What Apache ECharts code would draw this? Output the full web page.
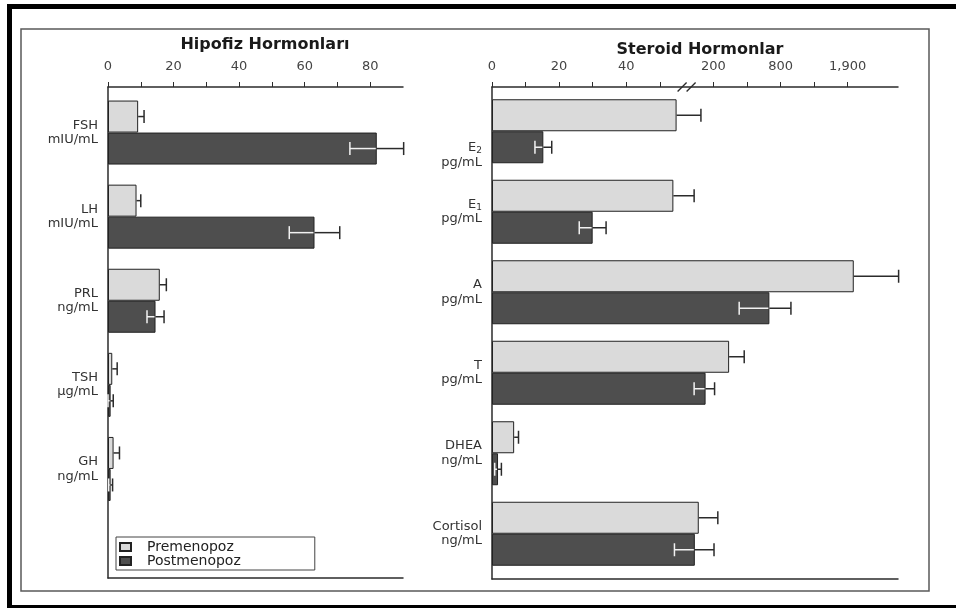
<!DOCTYPE html>
<html>
<head>
<meta charset="utf-8">
<script src="https://cdn.jsdelivr.net/npm/echarts@6/dist/echarts.min.js"></script>
<style>
  html, body { margin: 0; padding: 0; background: #fff; }
  #chart { width: 956px; height: 608px; }
</style>
</head>
<body>
<div id="chart"></div>
<script>
// Pituitary hormones (left panel)
const pituitaryCats = ['FSH', 'LH', 'PRL', 'TSH', 'GH'];
const pituitaryUnits = ['mIU/mL', 'mIU/mL', 'ng/mL', 'µg/mL', 'ng/mL'];
const pituitaryPre = [9.2, 8.7, 15.8, 1.3, 1.7];
const pituitaryPreErr = [1.8, 1.3, 2.0, 1.5, 1.8];
const pituitaryPost = [82, 63, 14.5, 0.8, 0.8];
const pituitaryPostErr = [8.2, 7.7, 2.6, 0.8, 0.6];
const pituitaryTickLabels = [0, 20, 40, 60, 80];
const pituitaryMinorTicks = [0, 10, 20, 30, 40, 50, 60, 70, 80];

// Steroid hormones (right panel, broken scale)
const steroidCats = ['E2', 'E1', 'A', 'T', 'DHEA', 'Cortisol'];
const steroidUnits = ['pg/mL', 'pg/mL', 'pg/mL', 'pg/mL', 'ng/mL', 'ng/mL'];
const steroidPre = [97, 88, 2000, 340, 6.6, 159];
const steroidPreErr = [68, 58, 735, 135, 1.3, 80];
const steroidPost = [15.3, 30, 700, 178, 1.8, 148];
const steroidPostErr = [2.5, 4, 270, 32, 1.0, 57];
const steroidTickValues = [0, 20, 40, 200, 800, 1900];
const steroidTickLabels = ['0', '20', '40', '200', '800', '1,900'];
const steroidMinorTicks = [0, 10, 20, 30, 40, 50, 200, 500, 800, 1350, 1900];

const seriesNames = ['Premenopoz', 'Postmenopoz'];

// Broken scale: value -> linear axis units (piecewise linear between knots)
const scaleKnots = [[0, 0], [50, 50], [200, 66], [800, 86], [1900, 106]];
function toAxis(v) {
  for (let i = 1; i < scaleKnots.length; i++) {
    const [v0, u0] = scaleKnots[i - 1], [v1, u1] = scaleKnots[i];
    if (v <= v1 || i === scaleKnots.length - 1) {
      return u0 + (v - v0) * (u1 - u0) / (v1 - v0);
    }
  }
}
const ident = v => v;

const FONT = 'DejaVu Sans';
const INK = '#2b2b2b';
const PRE_FILL = '#dadada';
const POST_FILL = '#4e4e4e';
const BAR_W = 32;

function errorData(vals, errs, map) {
  return vals.map((v, i) => [map(Math.max(0, v - errs[i])), map(v + errs[i]), map(v), i]);
}

function errorSeries(name, xIdx, yIdx, data, side) {
  return {
    type: 'custom', name: name, xAxisIndex: xIdx, yAxisIndex: yIdx, z: 5, clip: false,
    encode: { x: [0, 1, 2], y: 3 },
    data: data,
    renderItem: function (params, api) {
      const idx = api.value(3);
      const pEnd = api.coord([api.value(2), idx]);
      const pHi = api.coord([api.value(1), idx]);
      const pLo = api.coord([api.value(0), idx]);
      const y = pEnd[1] + side * BAR_W / 2;
      const cap = 6.5;
      const dark = { stroke: INK, lineWidth: 1.5 };
      const light = { stroke: '#f2f2f2', lineWidth: 1.5 };
      const kids = [
        { type: 'line', shape: { x1: pEnd[0], y1: y, x2: pHi[0], y2: y }, style: dark },
        { type: 'line', shape: { x1: pHi[0], y1: y - cap, x2: pHi[0], y2: y + cap }, style: dark }
      ];
      if (side > 0) {
        kids.push({ type: 'line', shape: { x1: pLo[0], y1: y, x2: pEnd[0] - 1, y2: y }, style: light });
        kids.push({ type: 'line', shape: { x1: pLo[0], y1: y - cap, x2: pLo[0], y2: y + cap }, style: light });
      }
      return { type: 'group', children: kids };
    }
  };
}

function barSeries(name, xIdx, yIdx, data, fill) {
  return {
    type: 'bar', name: name, xAxisIndex: xIdx, yAxisIndex: yIdx,
    barWidth: BAR_W, barGap: '0%',
    itemStyle: { color: fill, borderColor: '#222', borderWidth: 1 },
    data: data
  };
}

const richLabel = {
  n: { fontFamily: FONT, fontSize: 13, color: '#333', lineHeight: 14.5 },
  sub: { fontFamily: FONT, fontSize: 9, color: '#333', lineHeight: 9, verticalAlign: 'bottom' }
};
const labelPadTop = { E2: 48 };

const lineOnly = (extra) => Object.assign({
  axisLine: { show: true, onZero: false, lineStyle: { color: INK, width: 1.5 } },
  axisTick: { show: false }, axisLabel: { show: false }, splitLine: { show: false }
}, extra);

const topValueAxis = (gridIndex, max, labelVals, tickVals, fmt) => ({
  type: 'value', gridIndex: gridIndex, position: 'top', min: 0, max: max,
  axisLine: { show: true, onZero: false, lineStyle: { color: INK, width: 1.5 } },
  axisTick: { show: true, length: 5, inside: false, lineStyle: { color: INK, width: 1 }, customValues: tickVals },
  axisLabel: { show: true, margin: 14, fontFamily: FONT, fontSize: 13, color: '#444',
               customValues: labelVals, formatter: fmt },
  splitLine: { show: false }
});

const steroidTickU = steroidTickValues.map(toAxis);
const steroidMax = 121;
const pitMax = 90;

const option = {
  animation: false,
  backgroundColor: '#fff',
  title: [
    { text: 'Hipofiz Hormonları', left: 260, top: 32, textAlign: 'center',
      textStyle: { fontFamily: FONT, fontSize: 16, fontWeight: 'bold', color: '#1a1a1a' } },
    { text: 'Steroid Hormonlar', left: 695, top: 37, textAlign: 'center',
      textStyle: { fontFamily: FONT, fontSize: 16, fontWeight: 'bold', color: '#1a1a1a' } }
  ],
  legend: {
    data: seriesNames, orient: 'vertical', left: 116, top: 537, icon: 'rect',
    itemWidth: 11, itemHeight: 8, itemGap: 0, selectedMode: false,
    padding: [3, 74, 2, 3], borderColor: '#444', borderWidth: 1,
    textStyle: { fontFamily: FONT, fontSize: 14, color: '#222', padding: [0, 0, 0, 11] }
  },
  grid: [
    { left: 108, top: 87, width: 295, height: 491, outerBoundsMode: 'none' },
    { left: 108, top: 90.5, width: 295, height: 420.5, outerBoundsMode: 'none' },
    { left: 492, top: 87, width: 406, height: 492, outerBoundsMode: 'none' },
    { left: 492, top: 91, width: 406, height: 483, outerBoundsMode: 'none' }
  ],
  xAxis: [
    topValueAxis(0, pitMax, pituitaryTickLabels, pituitaryMinorTicks, v => String(v)),
    lineOnly({ type: 'value', gridIndex: 0, position: 'bottom', min: 0, max: pitMax }),
    { type: 'value', gridIndex: 1, min: 0, max: pitMax, show: false },
    topValueAxis(2, steroidMax, steroidTickU, steroidMinorTicks.map(toAxis), v => {
      const i = steroidTickU.findIndex(u => Math.abs(u - v) < 1e-6);
      return i >= 0 ? steroidTickLabels[i] : '';
    }),
    lineOnly({ type: 'value', gridIndex: 2, position: 'bottom', min: 0, max: steroidMax }),
    { type: 'value', gridIndex: 3, min: 0, max: steroidMax, show: false }
  ],
  yAxis: [
    lineOnly({ type: 'value', gridIndex: 0, position: 'left', min: 0, max: 1 }),
    {
      type: 'category', gridIndex: 1, inverse: true, data: pituitaryCats,
      axisLine: { show: false }, axisTick: { show: false }, splitLine: { show: false },
      axisLabel: {
        margin: 10, rich: richLabel, align: 'right',
        formatter: v => `{n|${v}}\n{n|${pituitaryUnits[pituitaryCats.indexOf(v)]}}`
      }
    },
    lineOnly({ type: 'value', gridIndex: 2, position: 'left', min: 0, max: 1 }),
    {
      type: 'category', gridIndex: 3, inverse: true,
      data: steroidCats.map(c => labelPadTop[c] ? { value: c, textStyle: { padding: [labelPadTop[c], 0, 0, 0] } } : c),
      axisLine: { show: false }, axisTick: { show: false }, splitLine: { show: false },
      axisLabel: {
        margin: 10, rich: richLabel, align: 'right',
        formatter: v => {
          const m = v.match(/^E(\d)$/);
          const name = m ? `{n|E}{sub|${m[1]}}` : `{n|${v}}`;
          return `${name}\n{n|${steroidUnits[steroidCats.indexOf(v)]}}`;
        }
      }
    }
  ],
  series: [
    barSeries(seriesNames[0], 2, 1, pituitaryPre, PRE_FILL),
    barSeries(seriesNames[1], 2, 1, pituitaryPost, POST_FILL),
    errorSeries('pit-pre-err', 2, 1, errorData(pituitaryPre, pituitaryPreErr, ident), -1),
    errorSeries('pit-post-err', 2, 1, errorData(pituitaryPost, pituitaryPostErr, ident), 1),
    barSeries(seriesNames[0], 5, 3, steroidPre.map(toAxis), PRE_FILL),
    barSeries(seriesNames[1], 5, 3, steroidPost.map(toAxis), POST_FILL),
    errorSeries('ster-pre-err', 5, 3, errorData(steroidPre, steroidPreErr, toAxis), -1),
    errorSeries('ster-post-err', 5, 3, errorData(steroidPost, steroidPostErr, toAxis), 1)
  ]
};

const chart = echarts.init(document.getElementById('chart'), null, { renderer: 'canvas' });
chart.setOption(option);

// Page frame, plus the break marks on the steroid axis
const breakU = (scaleKnots[1][1] + scaleKnots[2][1]) / 2;
const bx = chart.convertToPixel({ xAxisIndex: 3 }, breakU);
const by = chart.convertToPixel({ yAxisIndex: 2 }, 1);
const slash = dx => ({
  type: 'line', z: 10,
  shape: { x1: bx + dx - 4.5, y1: by + 4.5, x2: bx + dx + 4.5, y2: by - 4.5 },
  style: { stroke: INK, lineWidth: 1.3 }
});
chart.setOption({
  graphic: [
    { type: 'rect', shape: { x: 7, y: 4, width: 949, height: 5 }, style: { fill: '#000' } },
    { type: 'rect', shape: { x: 7, y: 4, width: 5, height: 604 }, style: { fill: '#000' } },
    { type: 'rect', shape: { x: 7, y: 605, width: 949, height: 3 }, style: { fill: '#000' } },
    { type: 'rect', shape: { x: 21, y: 29, width: 908, height: 562 },
      style: { fill: 'none', stroke: '#5a5a5a', lineWidth: 1.5 } },
    slash(-4.5), slash(4.5)
  ]
});
</script>
</body>
</html>
